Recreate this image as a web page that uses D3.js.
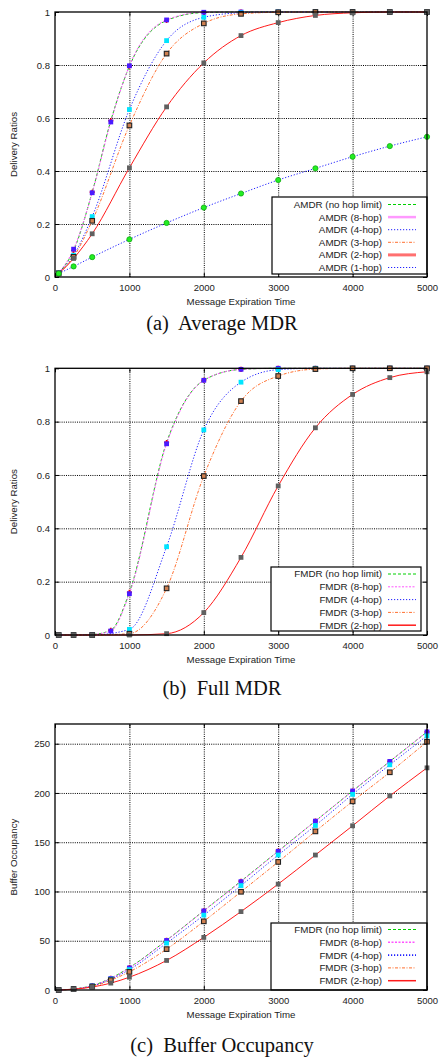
<!DOCTYPE html>
<html>
<head>
<meta charset="utf-8">
<script src="https://cdnjs.cloudflare.com/ajax/libs/d3/7.8.5/d3.min.js"></script>
<style>
body { margin: 0; background: #fff; }
svg text { font-family: "Liberation Sans", Arial, sans-serif; fill: #222; }
</style>
</head>
<body>
<script>
const W = 440;
const H = 1057;
const left = 55, right = 427;

// x positions of the measured points (message expiration time)
const xValues = [50, 250, 500, 750, 1000, 1500, 2000, 2500, 3000, 3500, 4000, 4500, 5000];
const xTicks = [0, 1000, 2000, 3000, 4000, 5000];

// (a) average MDR
const amdrNoHop = [0.015, 0.10, 0.32, 0.59, 0.795, 0.968, 0.998, 1, 1, 1, 1, 1, 1];
const amdr8 = [0.015, 0.105, 0.318, 0.585, 0.797, 0.97, 0.999, 1, 1, 1, 1, 1, 1];
const amdr4 = [0.015, 0.082, 0.228, null, 0.632, 0.892, 0.98, 0.997, 1, 1, 1, 1, 1];
const amdr3 = [0.014, 0.076, 0.212, null, 0.572, 0.843, 0.957, 0.993, 0.999, 1, 1, 1, 1];
const amdr2 = [0.012, 0.07, 0.163, null, 0.412, 0.642, 0.808, 0.911, 0.96, 0.987, 0.997, 1, 1];
const amdr1 = [0.013, 0.04, 0.075, null, 0.142, 0.204, 0.262, 0.315, 0.366, 0.41, 0.454, 0.494, 0.529];

// (b) full MDR
const fmdrNoHop = [0, 0, 0.002, 0.018, 0.16, 0.722, 0.955, 0.996, 1, 1, 1, 1, 1];
const fmdr8 = [0, 0, 0.002, 0.015, 0.155, 0.717, 0.955, 0.996, 1, 1, 1, 1, 1];
const fmdr4 = [0, 0, 0, null, 0.021, 0.331, 0.769, 0.948, 0.995, 1, 1, 1, 1];
const fmdr3 = [0, 0, 0, null, 0.005, 0.175, 0.596, 0.877, 0.971, 0.997, 1, 1, 1];
const fmdr2 = [0, 0, 0, null, 0, 0.005, 0.084, 0.291, 0.559, 0.777, 0.902, 0.965, 0.987];

// (c) buffer occupancy
const bufNoHop = [0, 1, 4.5, 12, 22.8, 50.5, 80.5, 110.5, 141, 171.5, 202, 232, 262];
const buf8 = [0, 1, 4.3, 11.7, 22.4, 50.3, 80.3, 110, 140.8, 171.4, 202, 232, 262];
const buf4 = [0, 1, 4, 11, 20.7, 47.6, 76, 106, 137, 167, 198.6, 228.6, 258];
const buf3 = [0, 1, 3.5, 10, 18.4, 41.5, 69.7, 99.7, 130, 161, 191.5, 221, 252];
const buf2 = [0, 0.8, 3, 7, 13, 30, 53.4, 79.6, 107.5, 137, 166.7, 197, 225.5];

const ratioTicks = [0, 0.2, 0.4, 0.6, 0.8, 1];
const bufTicks = [0, 50, 100, 150, 200, 250];

const styles = {
  noHop: { color: "#00d000", dash: "3,2", marker: "plus", mColor: "#ff0000" },
  hop8: { color: "#ff55ff", dash: "2,1.5", marker: "square", mColor: "#4a1aff" },
  hop4: { color: "#2222ff", dash: "1.2,1.8", marker: "square", mColor: "#00e5ff" },
  hop3: { color: "#ff7030", dash: "3,1.5,1,1.5", marker: "open", mColor: "#222" },
  hop2: { color: "#ff1a1a", dash: null, marker: "square", mColor: "#606060" },
  hop1: { color: "#2222ff", dash: "1.2,1.8", marker: "circle", mColor: "#22ee22" }
};

const panels = [
  {
    top: 12, bottom: 277, yMax: 1, yTicks: ratioTicks, yFmt: d3.format("~g"),
    yTitle: "Delivery Ratios", caption: "(a)  Average MDR", captionY: 330,
    legend: { x0: 272, x1: 427, y0: 197, y1: 274, first: 204.5, step: 12.6 },
    series: [
      { label: "AMDR (no hop limit)", st: styles.noHop, v: amdrNoHop },
      { label: "AMDR (8-hop)", st: styles.hop8, v: amdr8, lw: 2.5, lc: "#ff99ff", ld: null },
      { label: "AMDR (4-hop)", st: styles.hop4, v: amdr4 },
      { label: "AMDR (3-hop)", st: styles.hop3, v: amdr3 },
      { label: "AMDR (2-hop)", st: styles.hop2, v: amdr2, lw: 3, lc: "#ff7070" },
      { label: "AMDR (1-hop)", st: styles.hop1, v: amdr1 }
    ]
  },
  {
    top: 368.3, bottom: 635, yMax: 1, yTicks: ratioTicks, yFmt: d3.format("~g"),
    yTitle: "Delivery Ratios", caption: "(b)  Full MDR", captionY: 695,
    legend: { x0: 271, x1: 421, y0: 567, y1: 631, first: 574, step: 12.8 },
    series: [
      { label: "FMDR (no hop limit)", st: styles.noHop, v: fmdrNoHop },
      { label: "FMDR (8-hop)", st: styles.hop8, v: fmdr8 },
      { label: "FMDR (4-hop)", st: styles.hop4, v: fmdr4 },
      { label: "FMDR (3-hop)", st: styles.hop3, v: fmdr3 },
      { label: "FMDR (2-hop)", st: styles.hop2, v: fmdr2, lw: 1.5 }
    ]
  },
  {
    top: 724, bottom: 990, yMax: 270, yTicks: bufTicks, yFmt: d3.format("d"),
    yTitle: "Buffer Occupancy", caption: "(c)  Buffer Occupancy", captionY: 1052,
    legend: { x0: 271, x1: 427, y0: 923, y1: 990, first: 929.5, step: 12.8 },
    series: [
      { label: "FMDR (no hop limit)", st: styles.noHop, v: bufNoHop },
      { label: "FMDR (8-hop)", st: styles.hop8, v: buf8, lw: 1.6 },
      { label: "FMDR (4-hop)", st: styles.hop4, v: buf4, lw: 1.6 },
      { label: "FMDR (3-hop)", st: styles.hop3, v: buf3 },
      { label: "FMDR (2-hop)", st: styles.hop2, v: buf2, lw: 1.5 }
    ]
  }
];

const svg = d3.select("body")
  .append("svg")
  .attr("width", W)
  .attr("height", H);

function drawMarker(g, type, color, x, y) {
  if (type == "circle") {
    g.append("circle").attr("cx", x).attr("cy", y).attr("r", 2.6)
      .attr("fill", color).attr("stroke", "#11aa11").attr("stroke-width", 0.8);
  } else if (type == "plus") {
    g.append("path").attr("d", d3.symbol(d3.symbolCross, 14)())
      .attr("transform", "translate(" + x + "," + y + ")").attr("fill", color);
  } else if (type == "open") {
    g.append("rect").attr("x", x - 2.3).attr("y", y - 2.3).attr("width", 4.6).attr("height", 4.6)
      .attr("fill", "#d08050").attr("stroke", color).attr("stroke-width", 1.1);
  } else {
    g.append("rect").attr("x", x - 2.4).attr("y", y - 2.4).attr("width", 4.8).attr("height", 4.8)
      .attr("fill", color);
  }
}

panels.forEach(function(p) {
  const x = d3.scaleLinear().domain([0, 5000]).range([left, right]);
  const y = d3.scaleLinear().domain([0, p.yMax]).range([p.bottom, p.top]);
  const ph = p.bottom - p.top;
  const g = svg.append("g");

  // grid
  g.append("g")
    .attr("transform", "translate(0," + p.bottom + ")")
    .call(d3.axisBottom(x).tickValues(xTicks.slice(1, -1)).tickSize(-ph).tickFormat(""))
    .call(s => s.select(".domain").remove())
    .selectAll("line").attr("stroke", "#888").attr("stroke-dasharray", "1,1.2");
  g.append("g")
    .attr("transform", "translate(" + left + ",0)")
    .call(d3.axisLeft(y).tickValues(p.yTicks.filter(t => t > 0 && t < p.yMax)).tickSize(-(right - left)).tickFormat(""))
    .call(s => s.select(".domain").remove())
    .selectAll("line").attr("stroke", "#888").attr("stroke-dasharray", "1,1.2");

  // tick labels + inward ticks
  g.append("g")
    .attr("transform", "translate(0," + p.bottom + ")")
    .call(d3.axisBottom(x).tickValues(xTicks).tickFormat(d3.format("d")).tickSizeInner(-4).tickSizeOuter(0).tickPadding(7.5));
  g.append("g")
    .attr("transform", "translate(" + left + ",0)")
    .call(d3.axisLeft(y).tickValues(p.yTicks).tickFormat(p.yFmt).tickSizeInner(-4).tickSizeOuter(0).tickPadding(5));
  g.append("g")
    .attr("transform", "translate(0," + p.top + ")")
    .call(d3.axisTop(x).tickValues(xTicks).tickSizeInner(-4).tickSizeOuter(0).tickFormat(""));
  g.append("g")
    .attr("transform", "translate(" + right + ",0)")
    .call(d3.axisRight(y).tickValues(p.yTicks).tickSizeInner(-4).tickSizeOuter(0).tickFormat(""));
  g.selectAll(".domain").remove();
  g.selectAll(".tick text").style("font-size", "9.5px").attr("fill", "#222");
  g.selectAll(".tick line").attr("stroke", "#000");

  // clip for curves
  const clipId = "clip" + Math.round(p.top);
  svg.append("clipPath").attr("id", clipId)
    .append("rect").attr("x", left).attr("y", p.top - 4).attr("width", right - left + 4).attr("height", ph + 8);

  const line = d3.line()
    .defined(d => d[1] != null)
    .x(d => x(d[0]))
    .y(d => y(d[1]))
    .curve(d3.curveMonotoneX);

  const plot = g.append("g").attr("clip-path", "url(#" + clipId + ")");
  p.series.forEach(function(s) {
    const pts = xValues.map((xv, i) => [xv, s.v[i]]).filter(d => d[1] != null);
    plot.append("path")
      .attr("d", line(pts))
      .attr("fill", "none")
      .attr("stroke", s.st.color)
      .attr("stroke-width", 1)
      .attr("stroke-dasharray", s.st.dash);
  });
  p.series.forEach(function(s) {
    xValues.forEach(function(xv, i) {
      if (s.v[i] == null) return;
      drawMarker(plot, s.st.marker, s.st.mColor, x(xv), y(s.v[i]));
    });
  });

  // legend
  const L = p.legend;
  g.append("rect")
    .attr("x", L.x0).attr("y", L.y0)
    .attr("width", L.x1 - L.x0).attr("height", L.y1 - L.y0)
    .attr("fill", "#fff").attr("stroke", "#000").attr("stroke-width", 1.2);
  p.series.forEach(function(s, i) {
    const ly = L.first + i * L.step;
    g.append("text")
      .attr("x", 382).attr("y", ly).attr("dy", "0.35em")
      .attr("text-anchor", "end")
      .style("font-size", "9.8px")
      .text(s.label);
    g.append("line")
      .attr("x1", 388).attr("x2", 416)
      .attr("y1", ly).attr("y2", ly)
      .attr("stroke", s.lc || s.st.color)
      .attr("stroke-width", s.lw || 1)
      .attr("stroke-dasharray", s.ld === null ? null : s.st.dash);
  });

  // frame
  g.append("rect")
    .attr("x", left).attr("y", p.top)
    .attr("width", right - left).attr("height", ph)
    .attr("fill", "none").attr("stroke", "#000").attr("stroke-width", 1.3);

  // axis titles
  g.append("text")
    .attr("x", (left + right) / 2).attr("y", p.bottom + 28)
    .attr("text-anchor", "middle")
    .style("font-size", "9.7px")
    .text("Message Expiration Time");
  g.append("text")
    .attr("transform", "translate(17," + (p.top + ph / 2) + ") rotate(-90)")
    .attr("text-anchor", "middle")
    .style("font-size", "9.7px")
    .text(p.yTitle);

  // caption
  svg.append("text")
    .attr("x", 222).attr("y", p.captionY)
    .attr("text-anchor", "middle")
    .style("font-family", "'Liberation Serif', 'Times New Roman', serif")
    .style("font-size", "20.5px")
    .style("fill", "#111")
    .style("white-space", "pre")
    .text(p.caption);
});
</script>
</body>
</html>
